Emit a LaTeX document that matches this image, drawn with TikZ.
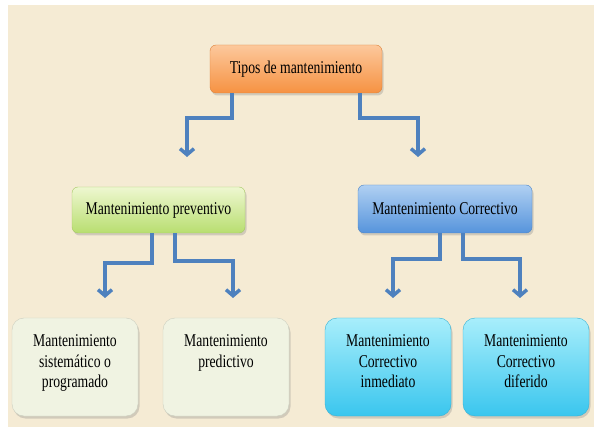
\documentclass[tikz,border=0pt]{standalone}
\usepackage{fontspec}
\setmainfont[FakeStretch=0.76]{Liberation Serif}
\usepackage{tikz}
\usetikzlibrary{shapes, arrows.meta, positioning, shadows}
\definecolor{fondo}{RGB}{245,235,212}
\definecolor{naranjaA}{RGB}{252,200,156}
\definecolor{naranjaB}{RGB}{246,146,66}
\definecolor{verdeA}{RGB}{238,247,208}
\definecolor{verdeB}{RGB}{184,222,112}
\definecolor{azulA}{RGB}{176,208,242}
\definecolor{azulB}{RGB}{86,148,220}
\definecolor{palido}{RGB}{240,243,226}
\definecolor{cianA}{RGB}{168,238,251}
\definecolor{cianB}{RGB}{58,198,238}
\definecolor{flecha}{RGB}{78,129,190}
\newcommand{\caja}[1]{\parbox[c][92pt][t]{120pt}{\vspace*{14pt}\centering #1}}

\begin{document}
\begin{tikzpicture}
  [
    x=1pt, y=-1pt,
    font=\fontsize{18}{20.5}\selectfont,
    Box/.style={rectangle, rounded corners=6pt, inner sep=0pt, align=center,
      drop shadow={shadow xshift=1.5pt, shadow yshift=-2.5pt, opacity=0.3}},
    Orange/.style={Box, draw=naranjaB!90!black, top color=naranjaA, bottom color=naranjaB,
      minimum width=172pt, minimum height=48pt},
    Green/.style={Box, draw=verdeB!90!black, top color=verdeA, bottom color=verdeB,
      minimum width=173pt, minimum height=46pt},
    Blue/.style={Box, draw=azulB!90!black, top color=azulA, bottom color=azulB,
      minimum width=174pt, minimum height=48pt},
    Pale/.style={Box, rounded corners=12pt, draw=palido!85!black, fill=palido,
      minimum width=126pt, minimum height=98pt},
    Cyan/.style={Box, rounded corners=12pt, draw=cianB!90!black, top color=cianA, bottom color=cianB,
      minimum width=126pt, minimum height=98pt},
    Arrow/.style={draw=flecha, line width=3.5pt, -{Straight Barb[length=6pt, width=14pt]}}
  ]
  \useasboundingbox (0,0) rectangle (594,427);
  \fill[fondo] (8,5) rectangle (594,427);
  % Nodes
  \node[Orange] (tipos) at (296, 69) {Tipos de mantenimiento};
  \node[Green] (prev) at (158.5, 210) {Mantenimiento preventivo};
  \node[Blue] (corr) at (445, 209) {Mantenimiento Correctivo};
  \node[Pale] (sist) at (75, 367) {\caja{Mantenimiento\\sistemático o\\programado}};
  \node[Pale] (pred) at (226, 367) {\caja{Mantenimiento\\predictivo}};
  \node[Cyan] (inme) at (388, 367) {\caja{Mantenimiento\\Correctivo\\inmediato}};
  \node[Cyan] (dife) at (526, 367) {\caja{Mantenimiento\\Correctivo\\diferido}};
  % Arrow ends
  \coordinate (f1) at (187, 157);
  \coordinate (f2) at (418, 157);
  \coordinate (f3) at (105, 298);
  \coordinate (f4) at (233, 298);
  \coordinate (f5) at (393, 298);
  \coordinate (f6) at (520, 298);
  % Lines
  \path [Arrow] ([xshift=-64pt]tipos.south) -- ++(0,25) -| (f1);
  \path [Arrow] ([xshift=64pt]tipos.south) -- ++(0,25) -| (f2);
  \path [Arrow] ([xshift=-6.5pt]prev.south) -- ++(0,30) -| (f3);
  \path [Arrow] ([xshift=16.5pt]prev.south) -- ++(0,28) -| (f4);
  \path [Arrow] ([xshift=-5pt]corr.south) -- ++(0,26) -| (f5);
  \path [Arrow] ([xshift=18pt]corr.south) -- ++(0,26) -| (f6);
\end{tikzpicture}
\end{document}
